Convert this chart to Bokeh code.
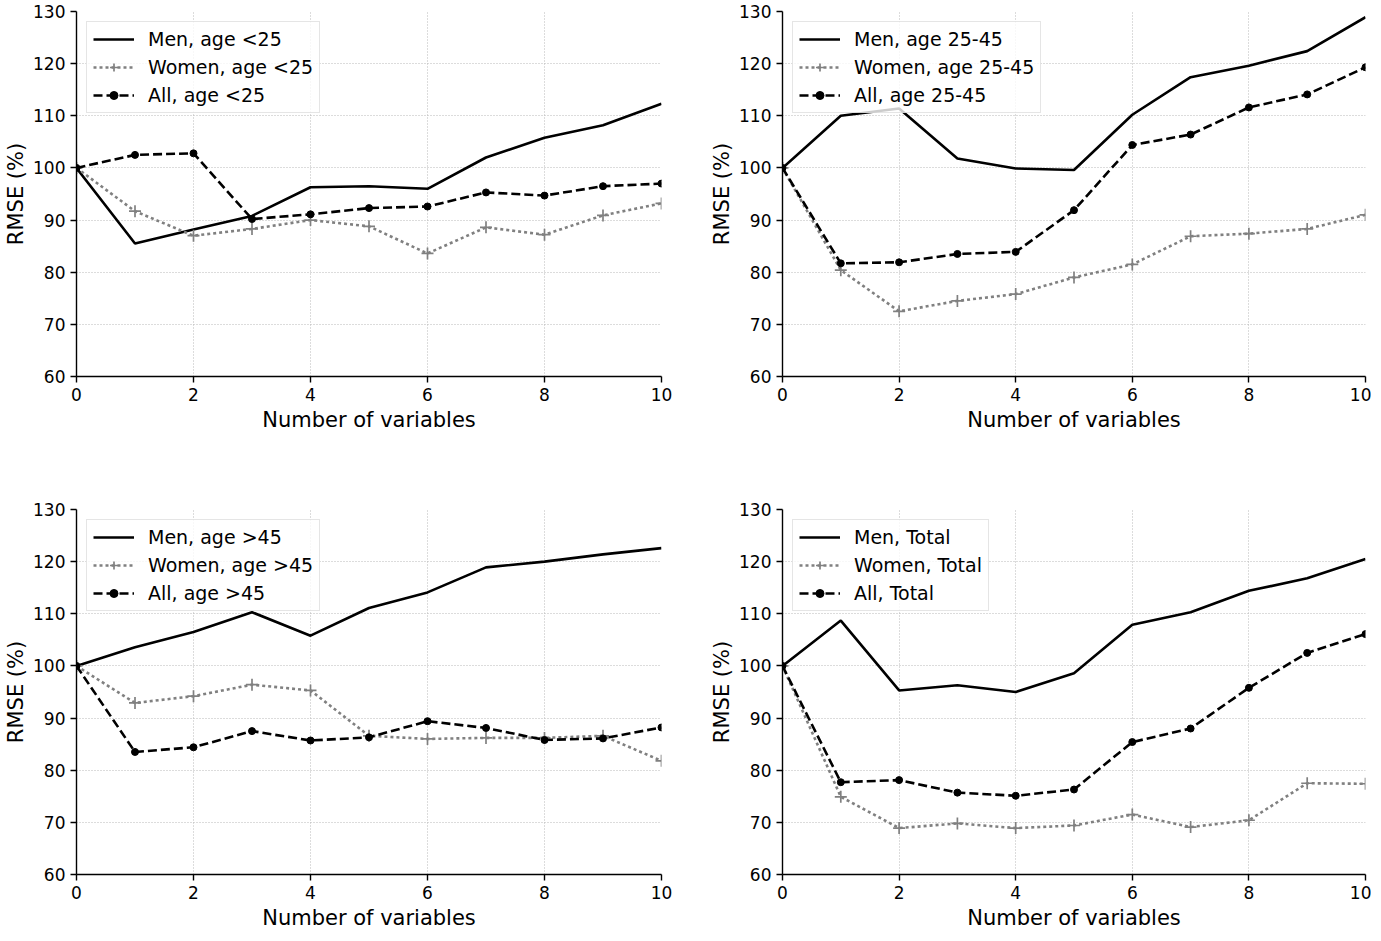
from bokeh.plotting import figure
from bokeh.layouts import gridplot
from bokeh.models import Range1d, FixedTicker
from bokeh.embed import file_html
from bokeh.resources import INLINE

# ---- data ----
n_vars = [0, 1, 2, 3, 4, 5, 6, 7, 8, 9, 10]
x_ticks = [0, 2, 4, 6, 8, 10]
y_ticks = [60, 70, 80, 90, 100, 110, 120, 130]

men_lt25 = [100, 85.5, 88.2, 90.8, 96.3, 96.5, 96.0, 102.0, 105.8, 108.2, 112.3]
women_lt25 = [100, 91.7, 87.0, 88.3, 90.0, 88.8, 83.6, 88.6, 87.2, 90.9, 93.2]
all_lt25 = [100, 102.5, 102.8, 90.2, 91.1, 92.3, 92.6, 95.3, 94.7, 96.5, 97.0]

men_2545 = [100, 110.0, 111.4, 101.8, 99.9, 99.6, 110.2, 117.4, 119.6, 122.4, 128.9]
women_2545 = [100, 80.4, 72.5, 74.5, 75.8, 79.0, 81.5, 86.9, 87.4, 88.3, 91.0]
all_2545 = [100, 81.7, 81.9, 83.5, 83.9, 91.9, 104.4, 106.4, 111.6, 114.1, 119.3]

men_gt45 = [100, 103.6, 106.5, 110.3, 105.8, 111.1, 114.1, 118.9, 120.0, 121.4, 122.6]
women_gt45 = [100, 92.9, 94.2, 96.4, 95.3, 86.6, 86.0, 86.2, 86.2, 86.6, 81.8]
all_gt45 = [100, 83.5, 84.4, 87.5, 85.7, 86.3, 89.4, 88.1, 85.8, 86.1, 88.2]

men_total = [100, 108.7, 95.3, 96.3, 95.0, 98.6, 107.9, 110.3, 114.4, 116.8, 120.5]
women_total = [100, 74.9, 68.9, 69.8, 68.9, 69.4, 71.5, 69.1, 70.4, 77.5, 77.4]
all_total = [100, 77.7, 78.1, 75.7, 75.1, 76.3, 85.4, 88.0, 95.8, 102.5, 106.1]

suffixes = ["age <25", "age 25-45", "age >45", "Total"]

FONT = "DejaVu Sans"
GRAY = "#808080"


def panel(men, women, allv, suffix, width, height, left, right, top, bottom):
    p = figure(width=width, height=height,
               x_range=Range1d(0, 10), y_range=Range1d(60, 130),
               output_backend="svg", toolbar_location=None,
               min_border_left=left, min_border_right=right,
               min_border_top=top, min_border_bottom=bottom)
    p.outline_line_color = None
    p.background_fill_color = "white"

    p.line(n_vars, men, line_color="black", line_width=2.6,
           legend_label=f"Men, {suffix}")
    p.line(n_vars, women, line_color=GRAY, line_width=2.6, line_dash="3 3",
           legend_label=f"Women, {suffix}")
    p.scatter(n_vars, women, marker="cross", size=12, line_color=GRAY,
              line_width=1.7, legend_label=f"Women, {suffix}")
    p.line(n_vars, allv, line_color="black", line_width=2.6, line_dash="9 4",
           legend_label=f"All, {suffix}")
    p.scatter(n_vars, allv, marker="circle", size=7, fill_color="black",
              line_color="black", legend_label=f"All, {suffix}")

    p.xaxis.ticker = FixedTicker(ticks=x_ticks)
    p.yaxis.ticker = FixedTicker(ticks=y_ticks)
    p.xaxis.axis_label = "Number of variables"
    p.yaxis.axis_label = "RMSE (%)"
    for ax in (p.xaxis[0], p.yaxis[0]):
        ax.axis_line_width = 1.4
        ax.axis_line_color = "black"
        ax.major_tick_line_width = 1.4
        ax.major_tick_line_color = "black"
        ax.major_tick_out = 6
        ax.major_tick_in = 0
        ax.minor_tick_out = 0
        ax.minor_tick_in = 0
        ax.major_label_text_font = FONT
        ax.major_label_text_font_size = "17px"
        ax.major_label_text_color = "black"
        ax.axis_label_text_font = FONT
        ax.axis_label_text_font_size = "21px"
        ax.axis_label_text_font_style = "normal"
        ax.axis_label_text_color = "black"
    p.xaxis.major_label_standoff = 5
    p.xaxis.axis_label_standoff = 4
    p.yaxis.major_label_standoff = 5
    p.yaxis.axis_label_standoff = 2

    for g in (p.xgrid[0], p.ygrid[0]):
        g.grid_line_color = "#b8b8b8"
        g.grid_line_dash = "1 2"
        g.grid_line_width = 1

    lg = p.legend[0]
    lg.location = "top_left"
    lg.margin = 10
    lg.padding = 6
    lg.spacing = 6
    lg.glyph_width = 41
    lg.glyph_height = 20
    lg.label_height = 20
    lg.label_standoff = 14
    lg.label_text_font = FONT
    lg.label_text_font_size = "19px"
    lg.label_text_color = "black"
    lg.border_line_color = "#cccccc"
    lg.border_line_width = 1
    lg.background_fill_color = "white"
    lg.background_fill_alpha = 0.8
    return p


# layout sizes
LEFT = 76
W_LEFT = 706
W_RIGHT = 665
H_TOP = 498
H_BOT = 434
TOP = 11

p1 = panel(men_lt25, women_lt25, all_lt25, suffixes[0], W_LEFT, H_TOP, LEFT, 45, TOP, 122)
p2 = panel(men_2545, women_2545, all_2545, suffixes[1], W_RIGHT, H_TOP, LEFT, 6, TOP, 122)
p3 = panel(men_gt45, women_gt45, all_gt45, suffixes[2], W_LEFT, H_BOT, LEFT, 45, TOP, 58)
p4 = panel(men_total, women_total, all_total, suffixes[3], W_RIGHT, H_BOT, LEFT, 6, TOP, 58)

grid = gridplot([[p1, p2], [p3, p4]], toolbar_location=None)

open("out.html", "w").write(file_html(grid, INLINE))
